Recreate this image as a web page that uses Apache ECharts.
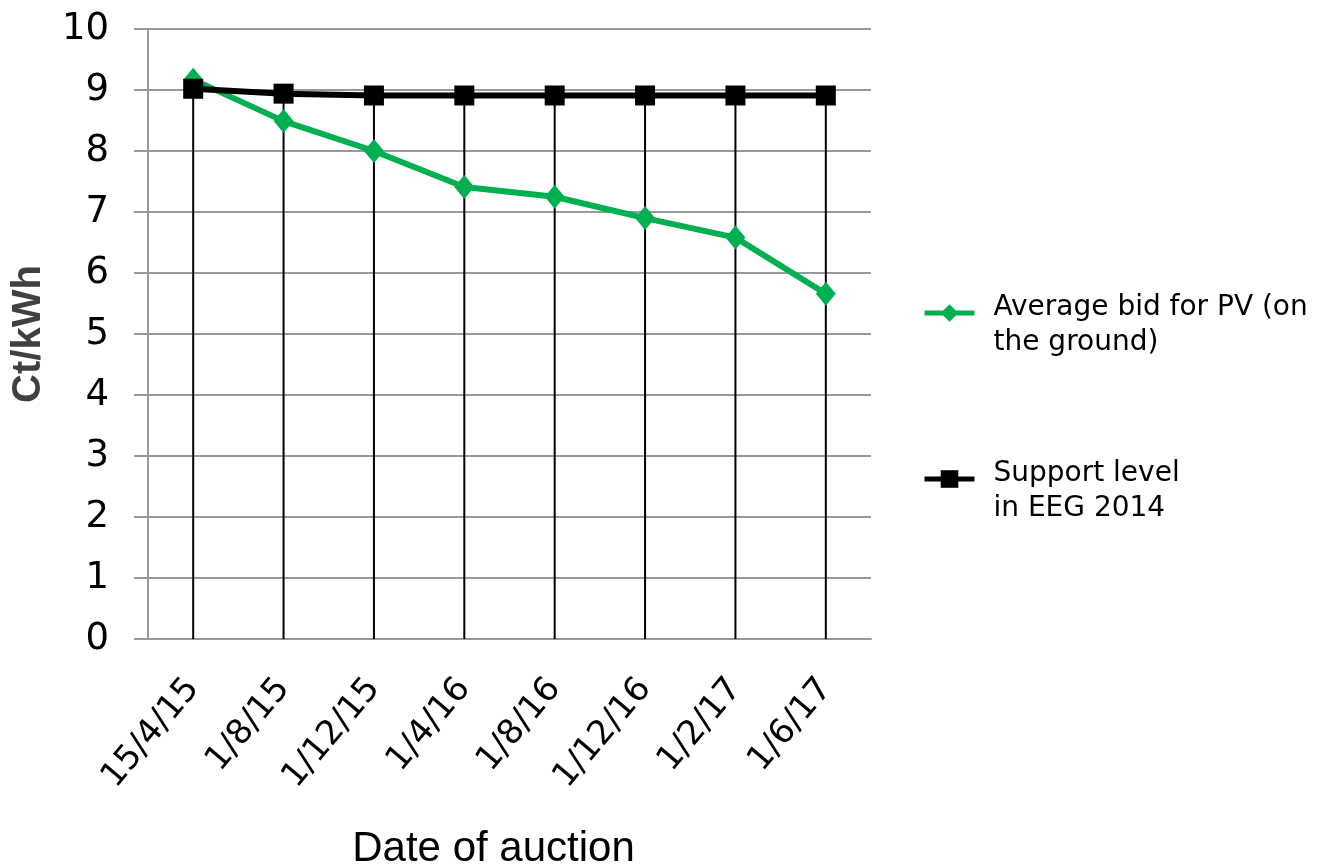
<!DOCTYPE html>
<html>
<head>
<meta charset="utf-8">
<script src="https://cdn.jsdelivr.net/npm/echarts@6/dist/echarts.min.js"></script>
<style>
  html, body { margin: 0; padding: 0; background: #fff; }
  #chart { width: 1331px; height: 867px; }
</style>
</head>
<body>
<div id="chart"></div>
<script>
const auctionDates = ['15/4/15', '1/8/15', '1/12/15', '1/4/16', '1/8/16', '1/12/16', '1/2/17', '1/6/17'];
const averageBid = [9.17, 8.49, 8.0, 7.41, 7.25, 6.9, 6.58, 5.66];
const supportLevel = [9.02, 8.94, 8.91, 8.91, 8.91, 8.91, 8.91, 8.91];
const yTicks = [0, 1, 2, 3, 4, 5, 6, 7, 8, 9, 10];

const bidName = 'Average bid for PV (on the ground)';
const supportName = 'Support level in EEG 2014';
const legendLines = {
  [bidName]: ['Average bid for PV (on', 'the ground)'],
  [supportName]: ['Support level', 'in EEG 2014'],
};

// spacer line on top so the first text line sits next to the icon
const legendFormat = (n) => '{s| }\n' + legendLines[n].map((l) => '{t|' + l + '}').join('\n');
const legendStyle = {
  fontFamily: 'DejaVu Sans',
  fontSize: 28,
  color: '#000',
  padding: [0, 0, 0, 14],
  rich: {
    s: { fontSize: 2, lineHeight: 25 },
    t: { fontFamily: 'DejaVu Sans', fontSize: 28, color: '#000', lineHeight: 35 },
  },
};

const chart = echarts.init(document.getElementById('chart'));

chart.setOption({
  animation: false,
  backgroundColor: '#fff',
  grid: { left: 148, right: 460, top: 29, bottom: 228, outerBoundsMode: 'none' },
  legend: [
    {
      data: [bidName],
      orient: 'vertical',
      left: 922,
      top: 277,
      padding: 0,
      itemWidth: 50,
      itemHeight: 22,
      lineStyle: { width: 5 },
      formatter: legendFormat,
      textStyle: legendStyle,
    },
    {
      data: [supportName],
      orient: 'vertical',
      left: 922,
      top: 443,
      padding: 0,
      itemWidth: 50,
      itemHeight: 22,
      lineStyle: { width: 5 },
      formatter: legendFormat,
      textStyle: legendStyle,
    },
  ],
  xAxis: {
    type: 'category',
    data: auctionDates,
    name: 'Date of auction',
    nameLocation: 'middle',
    nameGap: 189,
    nameTextStyle: { fontFamily: 'Liberation Sans', fontSize: 42, color: '#000', padding: [0, 32, 0, 0] },
    axisLine: { lineStyle: { color: '#999', width: 2 } },
    axisTick: { show: false },
    axisLabel: {
      rotate: 50,
      margin: 44,
      fontFamily: 'DejaVu Sans',
      fontSize: 34,
      color: '#000',
      interval: 0,
    },
  },
  yAxis: {
    type: 'value',
    min: yTicks[0],
    max: yTicks[yTicks.length - 1],
    interval: 1,
    name: 'Ct/kWh',
    nameLocation: 'middle',
    nameGap: 99,
    nameRotate: 90,
    nameTextStyle: { fontFamily: 'Liberation Sans', fontSize: 40, fontWeight: 'bold', color: '#404040' },
    axisLine: { show: true, lineStyle: { color: '#999', width: 2 } },
    axisTick: { show: true, length: 14, lineStyle: { color: '#999', width: 2 } },
    axisLabel: { margin: 39, fontFamily: 'DejaVu Sans', fontSize: 37, color: '#000' },
    splitLine: { lineStyle: { color: '#999', width: 2 } },
  },
  series: [
    {
      // drop lines from the highest point down to the axis
      name: 'drop',
      type: 'bar',
      data: supportLevel,
      barWidth: 2,
      itemStyle: { color: '#000' },
      silent: true,
      z: 1,
    },
    {
      name: bidName,
      type: 'line',
      data: averageBid,
      symbol: 'diamond',
      symbolSize: [20, 24],
      color: '#00B050',
      lineStyle: { color: '#00B050', width: 6 },
      itemStyle: { color: '#00B050' },
      z: 3,
    },
    {
      name: supportName,
      type: 'line',
      data: supportLevel,
      symbol: 'rect',
      symbolSize: 20,
      color: '#000',
      lineStyle: { color: '#000', width: 6 },
      itemStyle: { color: '#000' },
      z: 4,
    },
  ],
});
</script>
</body>
</html>
